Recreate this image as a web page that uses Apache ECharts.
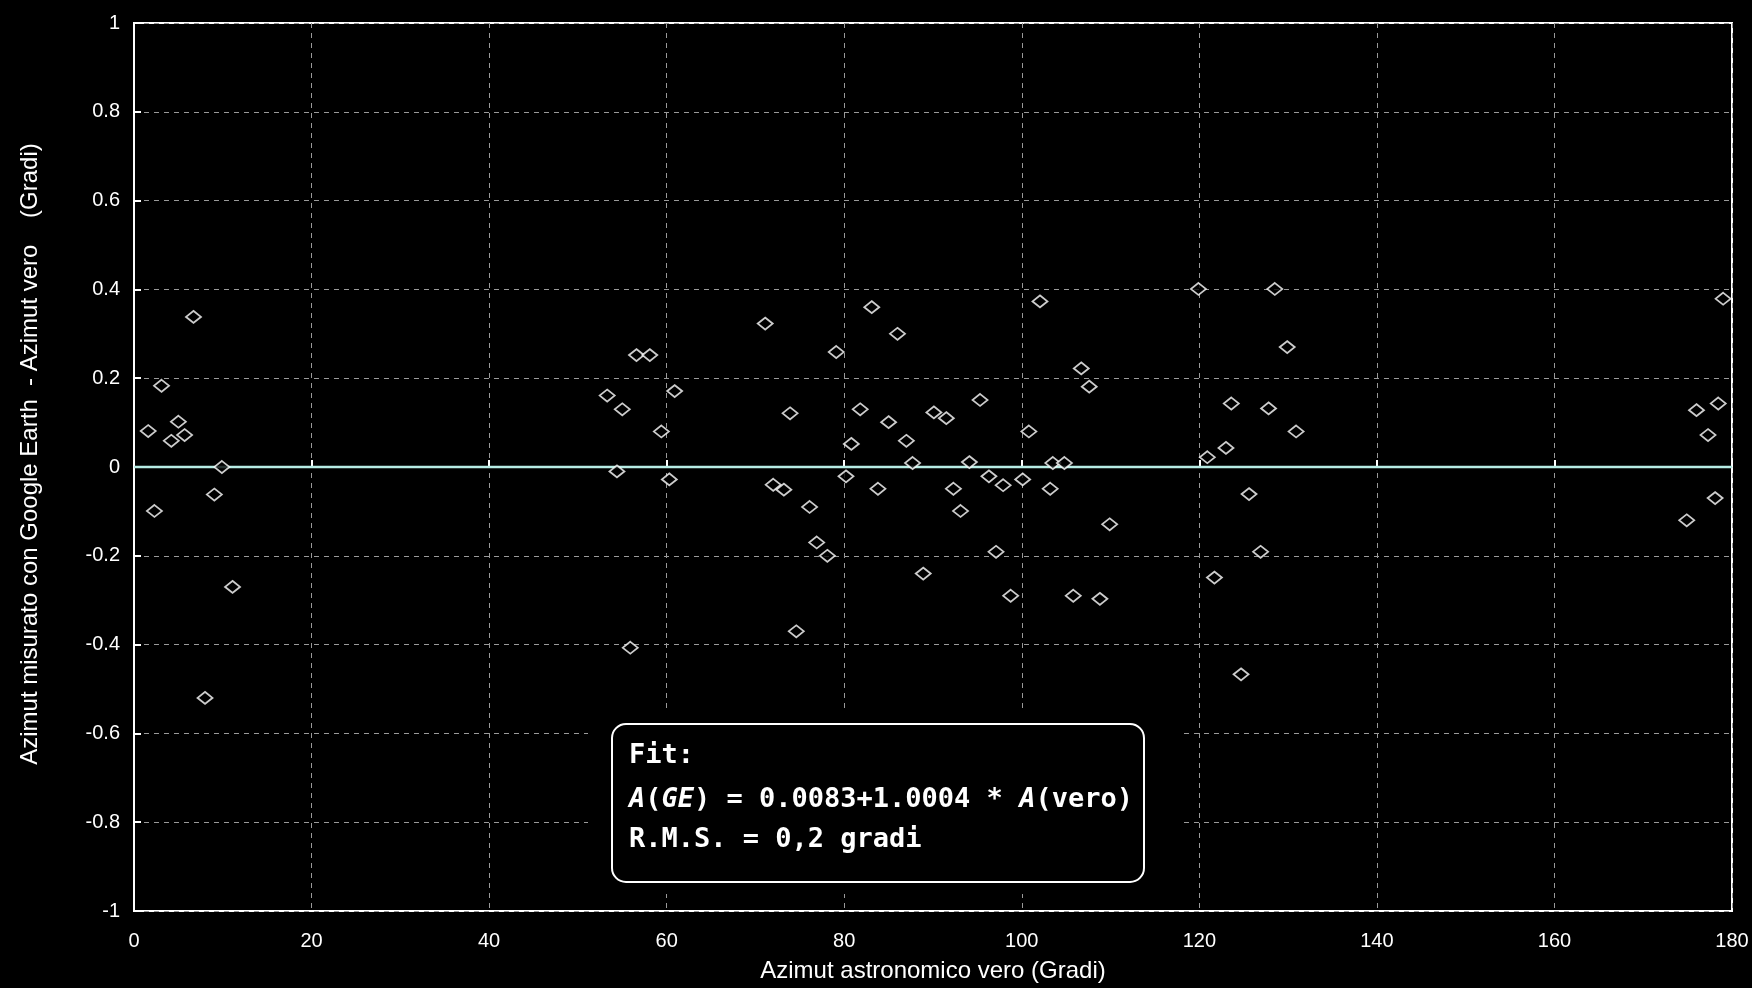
<!DOCTYPE html>
<html>
<head>
<meta charset="utf-8">
<title>Azimut Google Earth</title>
<script src="https://cdn.jsdelivr.net/npm/echarts@6/dist/echarts.min.js"></script>
<style>
  html, body { margin: 0; padding: 0; background: #000; }
  #main { width: 1752px; height: 988px; }
</style>
</head>
<body>
<div id="main"></div>
<script>
  // azimut astronomico vero (gradi)
  var azimutVero = [
    1.6, 2.3, 3.1, 4.2, 5.0, 5.7, 6.7, 8.0, 9.05, 9.9, 11.1,
    53.3, 54.4, 55.0, 55.9, 56.6, 58.1, 59.4, 60.3, 60.9,
    71.1, 72.0, 73.2, 73.9, 74.6, 76.1, 76.9, 78.1, 79.1, 80.2,
    80.8, 81.8, 83.1, 83.8, 85.0, 86.0, 87.0, 87.7, 88.9, 90.1,
    91.5, 92.3, 93.1, 94.1, 95.3, 96.3, 97.1, 97.9, 98.75, 100.1,
    100.8, 102.05, 103.2, 103.5, 104.8, 105.8, 106.7, 107.6, 108.8, 109.9,
    119.9, 120.9, 121.7, 123.0, 123.6, 124.7, 125.6, 126.9, 127.8, 128.5,
    129.9, 130.9,
    174.9, 176.0, 177.3, 178.1, 178.45, 179.0
  ]
  // azimut misurato con Google Earth - azimut vero (gradi)
  var scarto = [
    0.081, -0.099, 0.183, 0.059, 0.102, 0.072, 0.338, -0.52, -0.062, 0.0, -0.27,
    0.161, -0.010, 0.130, -0.407, 0.252, 0.252, 0.080, -0.028, 0.171,
    0.323, -0.040, -0.051, 0.121, -0.370, -0.090, -0.170, -0.200, 0.259, -0.021,
    0.052, 0.130, 0.360, -0.049, 0.101, 0.300, 0.059, 0.009, -0.240, 0.123,
    0.110, -0.049, -0.099, 0.011, 0.151, -0.021, -0.191, -0.041, -0.290, -0.028,
    0.080, 0.373, -0.049, 0.009, 0.009, -0.290, 0.222, 0.181, -0.297, -0.129,
    0.401, 0.022, -0.249, 0.043, 0.143, -0.467, -0.061, -0.191, 0.132, 0.401,
    0.270, 0.080,
    -0.120, 0.128, 0.072, -0.070, 0.143, 0.379
  ]
  // linea dello zero
  var zeroX = [0, 180]
  var zeroY = [0, 0]

  var points = []
  for (var i = 0; i < azimutVero.length; i++) {
    points.push([azimutVero[i], scarto[i]])
  }
  var zeroLine = []
  for (var j = 0; j < zeroX.length; j++) {
    zeroLine.push([zeroX[j], zeroY[j]])
  }

  var gridLine = {
    show: true,
    lineStyle: { color: '#9a9a9a', width: 1, type: [5, 5] }
  }
  var labelFont = {
    color: '#fff',
    fontFamily: 'Liberation Sans',
    fontSize: 20
  }
  var boxFont = 'bold 27px "DejaVu Sans Mono"'

  var chart = echarts.init(document.getElementById('main'))
  chart.setOption({
    backgroundColor: '#000',
    animation: false,
    grid: {
      left: 134, top: 23, right: 20, bottom: 73,
      show: true,
      borderColor: '#fff',
      borderWidth: 2
    },
    xAxis: {
      type: 'value',
      min: 0,
      max: 180,
      interval: 20,
      name: 'Azimut astronomico vero (Gradi)',
      nameLocation: 'middle',
      nameGap: 48,
      nameTextStyle: { color: '#fff', fontFamily: 'Liberation Sans', fontSize: 24 },
      axisLine: { lineStyle: { color: '#fff', width: 2 } },
      axisTick: { inside: true, length: 7, lineStyle: { color: '#fff', width: 2 } },
      axisLabel: Object.assign({ margin: 20 }, labelFont),
      splitLine: gridLine
    },
    yAxis: {
      type: 'value',
      min: -1,
      max: 1,
      interval: 0.2,
      name: 'Azimut misurato con Google Earth  - Azimut vero    (Gradi)',
      nameLocation: 'middle',
      nameGap: 92,
      nameTextStyle: {
        color: '#fff', fontFamily: 'Liberation Sans', fontSize: 24,
        padding: [0, 0, 0, 26]
      },
      axisLine: { lineStyle: { color: '#fff', width: 2 } },
      axisTick: { inside: true, length: 7, lineStyle: { color: '#fff', width: 2 } },
      axisLabel: Object.assign({ margin: 14 }, labelFont),
      splitLine: gridLine
    },
    series: [{
      name: 'zero',
      type: 'line',
      data: zeroLine,
      symbol: 'none',
      z: 2,
      lineStyle: { color: '#b6ece4', width: 2.5 }
    }, {
      name: 'scarto',
      type: 'scatter',
      data: points,
      symbol: 'diamond',
      symbolSize: [15, 12],
      z: 3,
      itemStyle: { color: '#000', borderColor: '#fff', borderWidth: 1.8 }
    }],
    graphic: [{
      type: 'rect',
      shape: { x: 588, y: 712, width: 592, height: 182 },
      style: { fill: '#000' },
      z: 50
    }, {
      type: 'rect',
      shape: { x: 612, y: 724, width: 532, height: 158, r: 14 },
      style: { fill: '#000', stroke: '#fff', lineWidth: 2 },
      z: 51
    }, {
      type: 'text',
      x: 629, y: 756,
      z: 52,
      style: { text: 'Fit:', fill: '#fff', font: boxFont, verticalAlign: 'middle' }
    }, {
      type: 'text',
      x: 629, y: 800,
      z: 52,
      style: {
        text: '{i|A}({i|GE}) = 0.0083+1.0004 * {i|A}(vero)',
        fill: '#fff',
        font: boxFont,
        verticalAlign: 'middle',
        rich: {
          i: { fill: '#fff', font: 'italic ' + boxFont }
        }
      }
    }, {
      type: 'text',
      x: 629, y: 840,
      z: 52,
      style: { text: 'R.M.S. = 0,2 gradi', fill: '#fff', font: boxFont, verticalAlign: 'middle' }
    }]
  })
</script>
</body>
</html>
